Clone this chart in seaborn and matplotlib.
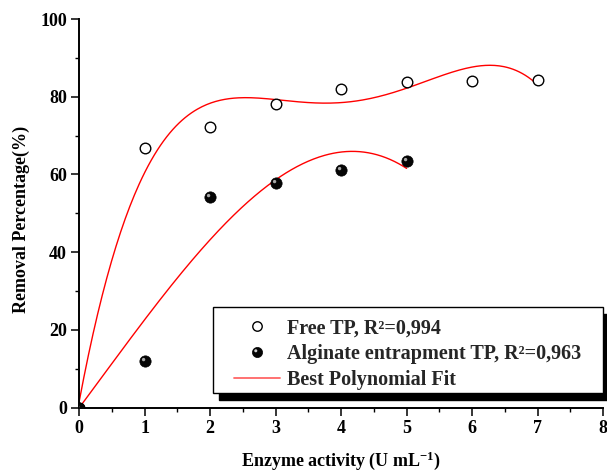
import numpy as np
import pandas as pd
import seaborn as sns
import matplotlib
matplotlib.use("Agg")
import matplotlib.pyplot as plt
from matplotlib.patches import Rectangle
from matplotlib.lines import Line2D
from matplotlib.path import Path
from matplotlib.markers import MarkerStyle
from matplotlib.legend_handler import HandlerTuple
from matplotlib import transforms

# ---- data ----
x_free = [0, 1, 2, 3, 4, 5, 6, 7]
y_free = [0, 66.7, 72.1, 78.2, 82.1, 83.9, 84.0, 84.3]
x_alg = [0, 1, 2, 3, 4, 5]
y_alg = [0, 12.1, 54.3, 57.7, 61.2, 63.5]
fit_degree_free = 4
fit_degree_alg = 3
legend_labels = ["Free TP, R\u00b2=0,994",
                 "Alginate entrapment TP, R\u00b2=0,963",
                 "Best Polynomial Fit"]
x_label = "Enzyme activity (U mL$^{\\mathbf{-1}}$)"
y_label = "Removal Percentage(%)"


def poly_fit_origin(x, y, deg):
    """least-squares polynomial constrained through the origin"""
    x = np.asarray(x, float)
    A = np.vstack([x ** k for k in range(1, deg + 1)]).T
    c, *_ = np.linalg.lstsq(A, np.asarray(y, float), rcond=None)
    return lambda t: sum(ci * t ** (k + 1) for k, ci in enumerate(c))


sns.set_theme(style="ticks")
plt.rcParams['font.family'] = ['Liberation Serif', 'DejaVu Serif']
plt.rcParams['font.weight'] = 'bold'
plt.rcParams['mathtext.fontset'] = 'custom'
plt.rcParams['mathtext.rm'] = 'Liberation Serif:bold'
plt.rcParams['mathtext.bf'] = 'Liberation Serif:bold'
plt.rcParams['mathtext.default'] = 'bf'

fig = plt.figure(figsize=(6.07, 4.72), dpi=100)
ax = fig.add_axes([0.1306, 0.1362, 0.8628, 0.8235])
ax.set_facecolor('none')

# polynomial fits computed from the data
xs_f = np.linspace(min(x_free), max(x_free), 300)
fit_f = np.polyval(np.polyfit(x_free, y_free, fit_degree_free), xs_f)
xs_a = np.linspace(min(x_alg), max(x_alg), 300)
fit_a = poly_fit_origin(x_alg, y_alg, fit_degree_alg)(xs_a)
sns.lineplot(x=xs_f, y=fit_f, ax=ax, color='#ff0000', lw=1.0, zorder=2)
sns.lineplot(x=xs_a, y=fit_a, ax=ax, color='#ff0000', lw=1.0, zorder=2)

# highlight marker (glint on the spheres)
circ = Path.circle((-0.34, 0.34), 0.3)
verts = np.vstack([circ.vertices, [[1, 1], [-1, -1]]])
codes = np.concatenate([circ.codes, [Path.MOVETO, Path.MOVETO]])
glint = MarkerStyle(Path(verts, codes))

msize = 58
sns.scatterplot(x=x_free, y=y_free, ax=ax, marker='o', s=msize, facecolor='white',
                edgecolor='black', linewidth=1.0, zorder=3)
sns.scatterplot(x=x_alg, y=y_alg, ax=ax, marker='o', s=msize + 8, color='#050505',
                edgecolor='black', linewidth=0.5, zorder=3)
sns.scatterplot(x=x_alg, y=y_alg, ax=ax, marker=glint, s=msize + 8, color='#a8a8a8',
                linewidth=0, zorder=3.1)

ax.set_xlim(0, 8)
ax.set_ylim(0, 100)
ax.set_xticks(np.arange(0, 9, 1))
ax.set_xticks(np.arange(0, 8.01, 0.5), minor=True)
ax.set_yticks(np.arange(0, 101, 20))
ax.set_yticks(np.arange(0, 101, 10), minor=True)
sns.despine(ax=ax)
for s in ['left', 'bottom']:
    ax.spines[s].set_linewidth(1.4)
    ax.spines[s].set_color('black')
ax.tick_params(which='major', direction='out', length=5.5, width=1.1, color='black',
               labelsize=13, pad=3.5, labelcolor='black')
ax.tick_params(which='minor', direction='out', length=3, width=1.0, color='black')
for lab in ax.get_xticklabels() + ax.get_yticklabels():
    lab.set_fontweight('bold')

ax.set_xlabel(x_label, fontsize=13, fontweight='bold', color='black')
ax.set_ylabel(y_label, fontsize=13, fontweight='bold', color='black')
ax.xaxis.set_label_coords(0.5, -0.137)
ax.xaxis.label.set_va('center')
ax.yaxis.set_label_coords(-0.110, 0.485)
ax.yaxis.label.set_va('center')

# legend frame with solid shadow
bx0, by0, bw, bh = 0.2547, 0.039, 0.7453, 0.2206
shadow_tr = transforms.offset_copy(ax.transAxes, fig=fig, x=6, y=-7, units='dots')
ax.add_patch(Rectangle((bx0, by0), bw, bh, transform=shadow_tr, facecolor='black',
                       edgecolor='black', clip_on=False, zorder=4))
ax.add_patch(Rectangle((bx0, by0), bw, bh, transform=ax.transAxes, facecolor='white',
                       edgecolor='black', lw=1.0, clip_on=False, zorder=4.1))

h_free = Line2D([], [], ls='none', marker='o', markersize=6.8, markerfacecolor='white',
                markeredgecolor='black', markeredgewidth=1.0)
h_alg_b = Line2D([], [], ls='none', marker='o', markersize=7.3, markerfacecolor='#050505',
                 markeredgecolor='black', markeredgewidth=0.5)
h_alg_g = Line2D([], [], ls='none', marker=glint, markersize=7.3, markerfacecolor='#d0d0d0',
                 markeredgewidth=0)
h_fit = Line2D([], [], color='#ff6666', lw=1.3)
leg = ax.legend([h_free, (h_alg_b, h_alg_g), h_fit], legend_labels,
                handler_map={tuple: HandlerTuple(ndivide=1, pad=0)},
                loc='center', bbox_to_anchor=(bx0, by0 - 0.012, bw, bh),
                bbox_transform=ax.transAxes, frameon=False,
                prop={'family': 'Liberation Serif', 'weight': 'bold', 'size': 14.5},
                handlelength=2.3, handletextpad=0.35, labelspacing=0.3,
                borderaxespad=0)
leg.set_zorder(5)

fig.savefig('out.png', dpi=100)
